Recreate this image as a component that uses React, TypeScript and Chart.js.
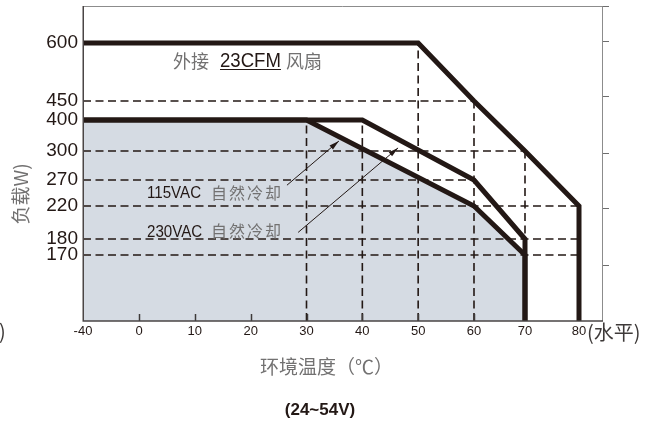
import { useEffect, useRef } from 'react';
import { Chart, registerables, LinearScale } from 'chart.js';

Chart.register(...registerables);

// ---- data (temperature °C, load W) ----
const FAN_TEMPS = [-40, 50, 60, 70, 80, 80];
const FAN_LOADS = [600, 600, 450, 300, 220, 0];
const AC115_TEMPS = [-40, 40, 60, 70, 70];
const AC115_LOADS = [400, 400, 270, 180, 0];
const AC230_TEMPS = [-40, 30, 60, 70, 70];
const AC230_LOADS = [400, 400, 220, 170, 0];

const X_TICKS = [-40, 0, 10, 20, 30, 40, 50, 60, 70, 80];
const Y_TICKS = [170, 180, 220, 270, 300, 400, 450, 600];
const INNER_TICK_TEMPS = [0, 10, 20, 30, 40, 50, 60];

// dashed reference lines
const H_REF_LOADS = [450, 300, 270, 220, 180, 170];
const H_REF_END_TEMPS = [60, 70, 60, 80, 80, 80];
const V_REF_TEMPS = [30, 40, 50, 60, 70];
const V_REF_TOP_LOADS = [400, 400, 600, 450, 300];

// leader arrows
const ARROW_TAIL_TEMPS = [26.5, 28.5];
const ARROW_TAIL_LOADS = [260, 188];
const ARROW_HEAD_TEMPS = [35.8, 46.4];
const ARROW_HEAD_LOADS = [332, 310];

// broken-axis knots (value -> axis position)
const X_KNOT_VALUES = [-40, 0, 60, 70, 80];
const X_KNOT_POS = [0, 56, 391, 442, 496];
const Y_KNOT_VALUES = [0, 170, 180, 220, 270, 300, 400, 450, 600];
const Y_KNOT_POS = [0, 66, 82, 115, 141, 170, 201, 220, 278];

const INK = '#231815';
const GREY_TEXT = '#727171';
const FILL = '#d5dbe3';
const NARROW = "'Liberation Sans Narrow', 'Arial Narrow', 'Liberation Sans', sans-serif";
const CJK = "'Noto Sans CJK SC', sans-serif";

function interp(v: number, xs: number[], ys: number[]): number {
  const n = xs.length;
  let i = 0;
  if (v <= xs[0]) i = 0;
  else if (v >= xs[n - 1]) i = n - 2;
  else {
    while (v > xs[i + 1]) i++;
  }
  const t = (v - xs[i]) / (xs[i + 1] - xs[i]);
  return ys[i] + t * (ys[i + 1] - ys[i]);
}

function makeWarpScale(id: string, knotVals: number[], knotPos: number[], tickVals: number[]) {
  return class extends LinearScale {
    static id = id;
    static defaults = {};
    getPixelForValue(value: any) {
      if (value === null || value === undefined || Number.isNaN(value)) return NaN;
      return super.getPixelForValue(interp(value, knotVals, knotPos));
    }
    getValueForPixel(pixel: number) {
      return interp(super.getValueForPixel(pixel) as number, knotPos, knotVals);
    }
    buildTicks() {
      return tickVals.map((v) => ({ value: v }));
    }
  };
}

const WarpX = makeWarpScale('warpX', X_KNOT_VALUES, X_KNOT_POS, X_TICKS);
const WarpY = makeWarpScale('warpY', Y_KNOT_VALUES, Y_KNOT_POS, Y_TICKS);
Chart.register(WarpX as any, WarpY as any);

const pts = (xs: number[], ys: number[]) => xs.map((x, i) => ({ x, y: ys[i] }));

const thick = (data: any[], extra: any = {}) => ({
  data,
  borderColor: INK,
  borderWidth: 5,
  pointRadius: 0,
  tension: 0,
  fill: false,
  borderJoinStyle: 'miter',
  borderCapStyle: 'butt',
  ...extra,
});

const dashed = (data: any[]) => ({
  data,
  borderColor: INK,
  borderWidth: 1.6,
  borderDash: [8, 4.5],
  pointRadius: 0,
  fill: false,
});

const ARROW_START = 3;

// draw condensed text (no narrow face installed)
function narrowText(ctx: CanvasRenderingContext2D, text: string, x: number, y: number, sx: number) {
  ctx.save();
  ctx.translate(x, y);
  ctx.scale(sx, 1);
  ctx.fillText(text, 0, 0);
  const w = ctx.measureText(text).width * sx;
  ctx.restore();
  return w;
}

const decorPlugin = {
  id: 'decor',
  afterDatasetsDraw(chart: any) {
    const { ctx, chartArea: a } = chart;
    const xs = chart.scales.x;
    ctx.save();
    // inner x tick marks
    ctx.strokeStyle = '#3e3a39';
    ctx.lineWidth = 1.5;
    INNER_TICK_TEMPS.forEach((t) => {
      const px = Math.round(xs.getPixelForValue(t)) + 0.5;
      ctx.beginPath();
      ctx.moveTo(px, a.bottom);
      ctx.lineTo(px, a.bottom - 7);
      ctx.stroke();
    });
    // frame
    ctx.strokeStyle = '#8c8c8c';
    ctx.lineWidth = 1;
    ctx.beginPath();
    ctx.moveTo(a.left, a.top + 0.5);
    ctx.lineTo(a.right + 0.5, a.top + 0.5);
    ctx.lineTo(a.right + 0.5, a.bottom);
    ctx.stroke();
    ctx.strokeStyle = '#4a4545';
    ctx.lineWidth = 1.5;
    ctx.beginPath();
    ctx.moveTo(a.left + 0.25, a.top);
    ctx.lineTo(a.left + 0.25, a.bottom);
    ctx.lineTo(a.right + 1, a.bottom);
    ctx.stroke();
    // arrowheads
    ctx.fillStyle = INK;
    for (let k = 0; k < 2; k++) {
      const meta = chart.getDatasetMeta(ARROW_START + k);
      const p0 = meta.data[0];
      const p1 = meta.data[1];
      const ang = Math.atan2(p1.y - p0.y, p1.x - p0.x);
      const L = 10;
      const W = 2.6;
      ctx.beginPath();
      ctx.moveTo(p1.x, p1.y);
      ctx.lineTo(p1.x - L * Math.cos(ang) + W * Math.sin(ang), p1.y - L * Math.sin(ang) - W * Math.cos(ang));
      ctx.lineTo(p1.x - L * Math.cos(ang) - W * Math.sin(ang), p1.y - L * Math.sin(ang) + W * Math.cos(ang));
      ctx.closePath();
      ctx.fill();
    }
    ctx.restore();
  },
  afterDraw(chart: any) {
    const { ctx } = chart;
    ctx.save();
    ctx.textBaseline = 'middle';
    ctx.textAlign = 'left';
    // fan label
    ctx.fillStyle = GREY_TEXT;
    ctx.font = `18px ${CJK}`;
    ctx.fillText('外接', 173, 61);
    ctx.fillText('风扇', 286, 61);
    ctx.fillStyle = INK;
    ctx.font = `20px ${NARROW}`;
    const w = narrowText(ctx, '23CFM', 220, 61, 0.93);
    ctx.strokeStyle = INK;
    ctx.lineWidth = 1;
    ctx.beginPath();
    ctx.moveTo(220, 69.5);
    ctx.lineTo(220 + w, 69.5);
    ctx.stroke();
    // cooling labels
    ctx.font = `17px ${NARROW}`;
    narrowText(ctx, '115VAC', 147, 193, 0.89);
    narrowText(ctx, '230VAC', 147, 232, 0.89);
    ctx.fillStyle = GREY_TEXT;
    ctx.font = `16px ${CJK}`;
    (ctx as any).letterSpacing = '2px';
    ctx.fillText('自然冷却', 211, 193);
    ctx.fillText('自然冷却', 211, 231);
    (ctx as any).letterSpacing = '0px';
    // x axis title
    ctx.font = `19px ${CJK}`;
    ctx.fillText('环境温度（℃）', 260, 367);
    // unit after 80
    ctx.fillStyle = '#3e3a39';
    ctx.font = `20px ${CJK}`;
    ctx.fillText('(水平)', 587, 332);
    ctx.fillText(')', -1, 331);
    // bottom caption
    ctx.fillStyle = INK;
    ctx.font = `bold 17px ${NARROW}`;
    ctx.textAlign = 'center';
    ctx.fillText('(24~54V)', 320, 410);
    // y axis title (rotated)
    ctx.translate(21, 194);
    ctx.rotate(-Math.PI / 2);
    ctx.fillStyle = GREY_TEXT;
    ctx.font = `19px ${CJK}`;
    ctx.fillText('负载W)', 0, 0);
    ctx.restore();
  },
};

export default function App() {
  const ref = useRef<HTMLCanvasElement | null>(null);

  useEffect(() => {
    if (!ref.current) return;
    const datasets: any[] = [
      thick(pts(FAN_TEMPS, FAN_LOADS)),
      thick(pts(AC115_TEMPS, AC115_LOADS)),
      thick(pts(AC230_TEMPS, AC230_LOADS), { fill: 'origin', backgroundColor: FILL }),
    ];
    for (let k = 0; k < ARROW_TAIL_TEMPS.length; k++) {
      datasets.push({
        data: [
          { x: ARROW_TAIL_TEMPS[k], y: ARROW_TAIL_LOADS[k] },
          { x: ARROW_HEAD_TEMPS[k], y: ARROW_HEAD_LOADS[k] },
        ],
        borderColor: INK,
        borderWidth: 1,
        pointRadius: 0,
        fill: false,
      });
    }
    H_REF_LOADS.forEach((load, i) => {
      datasets.push(dashed([{ x: -40, y: load }, { x: H_REF_END_TEMPS[i], y: load }]));
    });
    V_REF_TEMPS.forEach((t, i) => {
      datasets.push(dashed([{ x: t, y: 0 }, { x: t, y: V_REF_TOP_LOADS[i] }]));
    });

    const chart = new Chart(ref.current, {
      type: 'line',
      data: { datasets },
      plugins: [decorPlugin],
      options: {
        animation: false,
        responsive: true,
        maintainAspectRatio: false,
        layout: { padding: { top: 6, left: 0, right: 0, bottom: 0 } },
        plugins: {
          legend: { display: false },
          tooltip: { enabled: false },
          filler: { drawTime: 'beforeDatasetsDraw' },
        },
        scales: {
          x: {
            type: 'warpX' as any,
            position: 'bottom',
            min: 0,
            max: 519,
            grid: { display: false, drawTicks: false },
            border: { display: false },
            ticks: {
              autoSkip: false,
              maxRotation: 0,
              padding: 3,
              color: INK,
              font: { family: NARROW, size: 13 },
              callback: (v: any) => String(v),
            },
            afterFit: (s: any) => {
              s.height = 106;
              s.paddingLeft = 0;
              s.paddingRight = 0;
            },
          },
          y: {
            type: 'warpY' as any,
            position: 'left',
            min: 0,
            max: 315,
            grid: { display: false, drawTicks: false },
            border: { display: false },
            ticks: {
              autoSkip: false,
              padding: 5,
              color: INK,
              font: { family: NARROW, size: 19 },
              callback: (v: any) => String(v),
            },
            afterFit: (s: any) => {
              s.width = 83;
              s.paddingTop = 0;
              s.paddingBottom = 0;
            },
          },
          y2: {
            type: 'linear',
            position: 'right',
            min: 0,
            max: 5.625,
            grid: { drawOnChartArea: false, drawTicks: true, tickLength: 7, color: '#6e6e6e', lineWidth: 1 },
            border: { display: false },
            ticks: { display: false, stepSize: 1 },
            afterBuildTicks: (s: any) => {
              s.ticks = s.ticks.filter((t: any) => t.value > 0);
            },
            afterFit: (s: any) => {
              s.width = 51;
              s.paddingTop = 0;
              s.paddingBottom = 0;
            },
          },
        },
      } as any,
    });
    return () => chart.destroy();
  }, []);

  return (
    <div style={{ position: 'fixed', left: 0, top: 0, width: 653, height: 427, background: '#fff' }}>
      <canvas ref={ref} />
    </div>
  );
}
